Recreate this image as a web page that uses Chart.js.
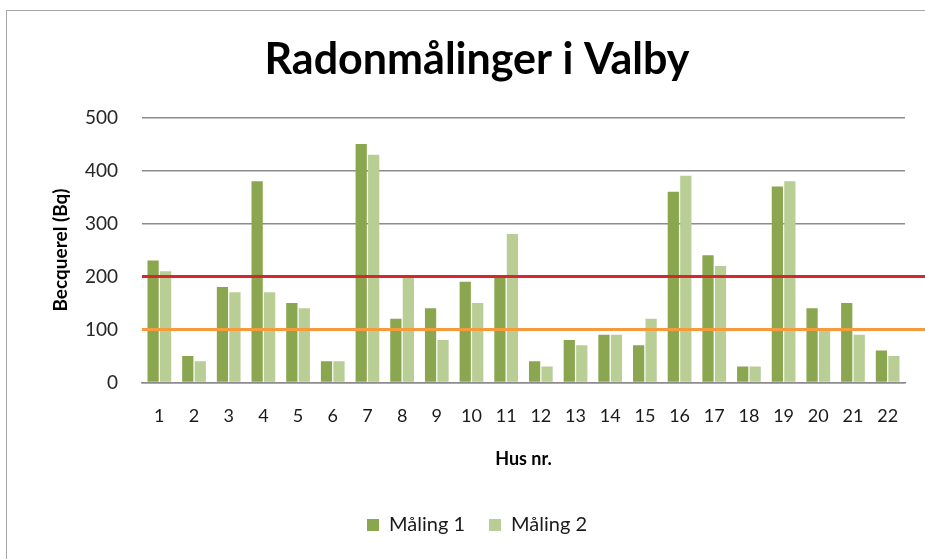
<!DOCTYPE html>
<html lang="da">
<head>
    <meta charset="UTF-8">
    <title>Radonmålinger i Valby</title>
    <script src="https://cdn.jsdelivr.net/npm/chart.js"></script>
    <style>
        body {
            margin: 0;
            width: 925px;
            height: 559px;
            overflow: hidden;
            background: #ffffff;
            position: relative;
        }
        .frame {
            position: absolute;
            left: 6px;
            top: 10px;
            width: 1000px;
            height: 700px;
            border: 1px solid #a6a6a6;
            box-sizing: border-box;
        }
        #chart-container {
            position: absolute;
            left: 0;
            top: 0;
            width: 925px;
            height: 559px;
        }
    </style>
</head>
<body>
    <div class="frame"></div>
    <div id="chart-container">
        <canvas id="chart"></canvas>
    </div>

    <script>
        const husNr = ['1', '2', '3', '4', '5', '6', '7', '8', '9', '10', '11',
                       '12', '13', '14', '15', '16', '17', '18', '19', '20', '21', '22'];
        const maaling1 = [230, 50, 180, 380, 150, 40, 450, 120, 140, 190, 200,
                          40, 80, 90, 70, 360, 240, 30, 370, 140, 150, 60];
        const maaling2 = [210, 40, 170, 170, 140, 40, 430, 200, 80, 150, 280,
                          30, 70, 90, 120, 390, 220, 30, 380, 100, 90, 50];
        const yTicks = [0, 100, 200, 300, 400, 500];
        // grænseværdier
        const limits = [
            { value: 200, color: '#d8262e' },
            { value: 100, color: '#f79a3c' }
        ];

        const FONT = "Lato, 'DejaVu Sans', sans-serif";

        const limitLines = {
            id: 'limitLines',
            afterDatasetsDraw(chart) {
                const ctx = chart.ctx;
                const y = chart.scales.y;
                ctx.save();
                limits.forEach(l => {
                    const py = Math.round(y.getPixelForValue(l.value)) + 0.5;
                    ctx.strokeStyle = l.color;
                    ctx.lineWidth = 3;
                    ctx.beginPath();
                    ctx.moveTo(chart.chartArea.left, py);
                    ctx.lineTo(chart.width, py);
                    ctx.stroke();
                });
                ctx.restore();
            }
        };

        const ctx = document.getElementById('chart').getContext('2d');
        new Chart(ctx, {
            type: 'bar',
            data: {
                labels: husNr,
                datasets: [{
                    label: 'Måling 1',
                    data: maaling1,
                    backgroundColor: '#8aa64f',
                    categoryPercentage: 0.72,
                    barPercentage: 0.9
                }, {
                    label: 'Måling 2',
                    data: maaling2,
                    backgroundColor: '#b8ce95',
                    categoryPercentage: 0.72,
                    barPercentage: 0.9
                }]
            },
            options: {
                responsive: true,
                maintainAspectRatio: false,
                animation: false,
                layout: { padding: { left: 49, right: 20, top: 0, bottom: 14 } },
                plugins: {
                    title: {
                        display: true,
                        text: 'Radonmålinger i Valby',
                        color: '#000000',
                        font: { family: FONT, size: 43, weight: 'bold', lineHeight: 1.2 },
                        padding: { top: 34, bottom: 32 }
                    },
                    legend: {
                        position: 'bottom',
                        labels: {
                            color: '#1a1a1a',
                            font: { family: FONT, size: 20 },
                            boxWidth: 12,
                            boxHeight: 12,
                            padding: 24
                        }
                    },
                    tooltip: { enabled: false }
                },
                scales: {
                    x: {
                        grid: { display: false, drawTicks: false },
                        border: { display: true, color: '#8c8c8c', width: 1.5 },
                        ticks: {
                            color: '#1a1a1a',
                            font: { family: FONT, size: 18 },
                            padding: 23,
                            maxRotation: 0,
                            autoSkip: false
                        },
                        title: {
                            display: true,
                            text: 'Hus nr.',
                            color: '#000000',
                            font: { family: FONT, size: 18, weight: 'bold', lineHeight: 1 },
                            padding: { top: 0, bottom: 23 }
                        }
                    },
                    y: {
                        min: 0,
                        max: 500,
                        afterBuildTicks: axis => {
                            axis.ticks = yTicks.map(v => ({ value: v }));
                        },
                        afterFit: axis => {
                            axis.width = 93;
                        },
                        grid: { color: '#8c8c8c', lineWidth: 1.5, drawTicks: false },
                        border: { display: false },
                        ticks: {
                            color: '#262626',
                            font: { family: FONT, size: 19 },
                            padding: 24
                        },
                        title: {
                            display: true,
                            text: 'Becquerel (Bq)',
                            color: '#000000',
                            font: { family: FONT, size: 19, weight: 'bold' },
                            padding: { top: 0, bottom: 0 }
                        }
                    }
                }
            },
            plugins: [limitLines]
        });
    </script>
</body>
</html>
